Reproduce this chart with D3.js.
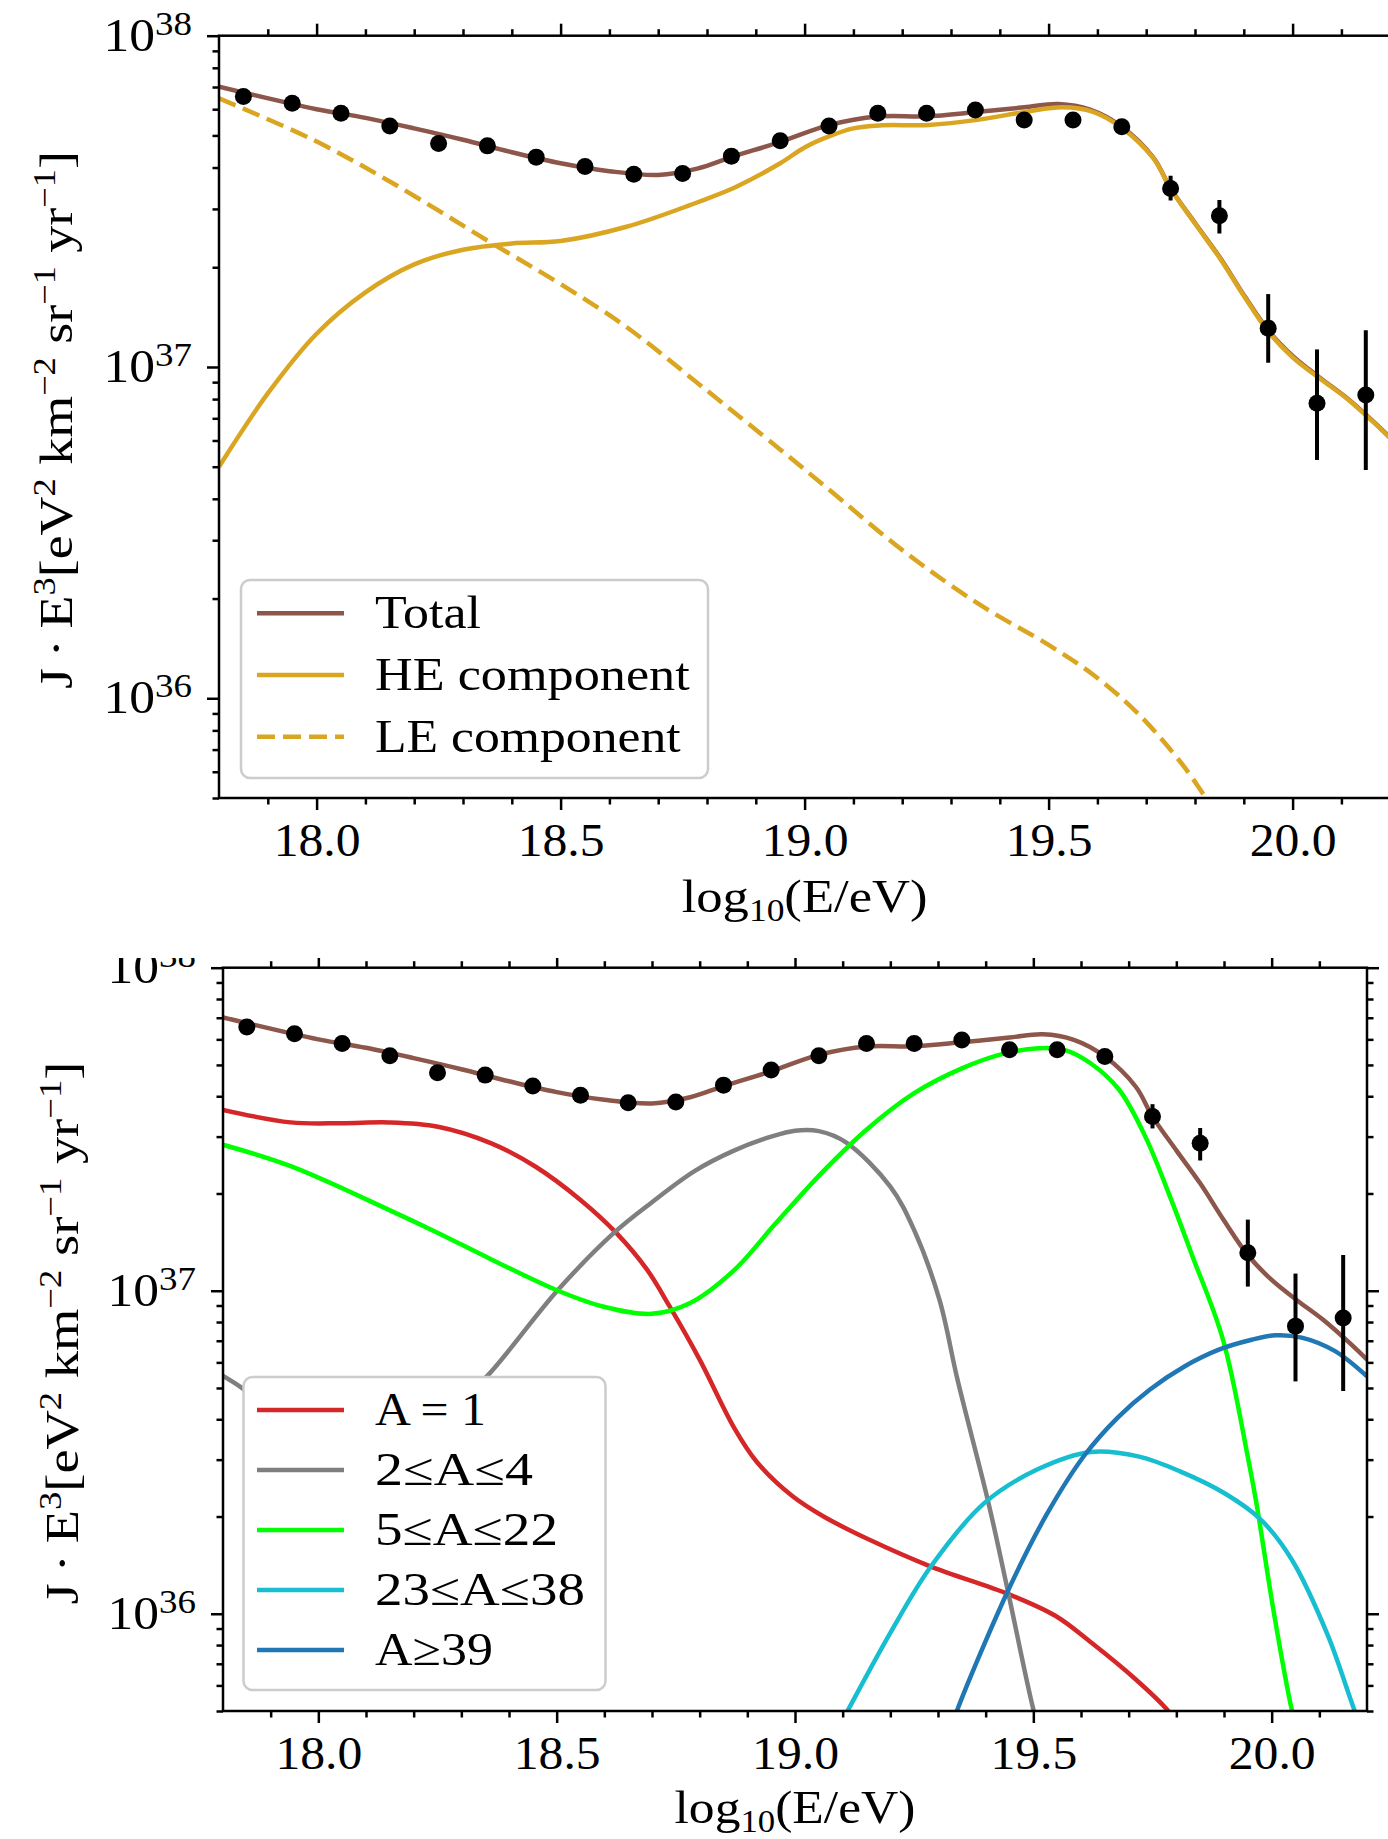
<!DOCTYPE html>
<html>
<head>
<meta charset="utf-8">
<script src="https://cdn.jsdelivr.net/npm/d3@7"></script>
<style>
  body { margin: 0; background: #fff; }
  svg text { font-family: "Liberation Serif", "Times New Roman", serif; fill: #000; }
</style>
</head>
<body>
<script>
// measured spectrum (same points in both panels)
const dataX = [17.85, 17.95, 18.05, 18.15, 18.25, 18.35, 18.45, 18.55, 18.65, 18.75, 18.85, 18.95,
  19.05, 19.15, 19.25, 19.35, 19.45, 19.55, 19.65, 19.75, 19.85, 19.95, 20.05, 20.15];
const dataFlux = [6.55e37, 6.25e37, 5.83e37, 5.34e37, 4.73e37, 4.65e37, 4.30e37, 4.03e37, 3.82e37, 3.84e37, 4.33e37, 4.82e37,
  5.34e37, 5.83e37, 5.83e37, 5.97e37, 5.57e37, 5.57e37, 5.31e37, 3.46e37, 2.86e37, 1.31e37, 7.77e36, 8.23e36];
const errLow = [null, null, null, null, null, null, null, null, null, null, null, null,
  null, null, null, null, null, null, null, 3.18e37, 2.53e37, 1.03e37, 5.24e36, 4.89e36];
const errHigh = [null, null, null, null, null, null, null, null, null, null, null, null,
  null, null, null, null, null, null, null, 3.78e37, 3.19e37, 1.66e37, 1.13e37, 1.29e37];

// model: total
const totalX = [17.8, 18.0, 18.1, 18.2, 18.3, 18.4, 18.5, 18.6, 18.7, 18.78, 18.85, 18.95, 19.05, 19.15, 19.25, 19.35,
  19.45, 19.52, 19.585, 19.65, 19.715, 19.75, 19.8, 19.85, 19.9, 19.95, 20.0, 20.055, 20.108, 20.164, 20.2];
const totalFlux = [7.02e37, 6.0e37, 5.65e37, 5.25e37, 4.85e37, 4.45e37, 4.12e37, 3.9e37, 3.8e37, 3.97e37, 4.3e37, 4.78e37, 5.37e37, 5.70e37, 5.71e37, 5.88e37,
  6.08e37, 6.22e37, 5.98e37, 5.31e37, 4.28e37, 3.46e37, 2.72e37, 2.15e37, 1.65e37, 1.29e37, 1.08e37, 9.3e36, 8.13e36, 6.88e36, 6.12e36];

// top panel components
const heX = [17.8, 17.9, 18.0, 18.1, 18.2, 18.3, 18.4, 18.5, 18.635, 18.765, 18.86, 18.95, 19.0, 19.055, 19.1, 19.153, 19.254, 19.354,
  19.455, 19.528, 19.59, 19.65, 19.715, 19.75, 19.8, 19.85, 19.9, 19.95, 20.0, 20.055, 20.108, 20.164, 20.2];
const heFlux = [5.0e36, 8.32e36, 1.26e37, 1.68e37, 2.04e37, 2.26e37, 2.36e37, 2.40e37, 2.65e37, 3.08e37, 3.50e37, 4.12e37, 4.6e37, 5.0e37, 5.25e37, 5.36e37, 5.38e37, 5.57e37,
  5.90e37, 6.08e37, 5.90e37, 5.27e37, 4.26e37, 3.45e37, 2.71e37, 2.14e37, 1.64e37, 1.28e37, 1.07e37, 9.25e36, 8.1e36, 6.85e36, 6.1e36];
const leX = [17.8, 17.994, 18.15, 18.36, 18.497, 18.635, 18.79, 18.951, 19.043, 19.208, 19.363, 19.5, 19.592, 19.684, 19.775, 19.821, 19.85];
const leFlux = [6.47e37, 4.84e37, 3.63e37, 2.36e37, 1.79e37, 1.32e37, 8.72e36, 5.62e36, 4.35e36, 2.745e36, 1.90e36, 1.449e36, 1.176e36, 8.97e35, 6.29e35, 5.04e35, 4.4e35];

// bottom panel components (mass groups)
const redX = [17.8, 17.942, 18.05, 18.148, 18.251, 18.363, 18.456, 18.55, 18.625, 18.69, 18.737, 18.8, 18.873, 18.92, 18.995,
  19.06, 19.154, 19.285, 19.448, 19.547, 19.622, 19.715, 19.78, 19.8];
const redFlux = [3.63e37, 3.32e37, 3.30e37, 3.32e37, 3.22e37, 2.86e37, 2.42e37, 1.91e37, 1.51e37, 1.16e37, 8.94e36, 6.12e36, 3.75e36, 2.95e36, 2.31e36,
  2.0e36, 1.70e36, 1.40e36, 1.15e36, 9.84e35, 8.13e35, 6.26e35, 5.06e35, 4.6e35];
const grayX = [17.8, 17.835, 17.9, 18.0, 18.1, 18.2, 18.3, 18.357, 18.503, 18.62, 18.7, 18.79, 18.873, 18.95, 19.0, 19.05, 19.107, 19.2, 19.25,
  19.303, 19.341, 19.406, 19.448, 19.5, 19.52];
const grayFlux = [5.45e36, 5.06e36, 4.3e36, 3.6e36, 3.4e36, 3.7e36, 4.6e36, 5.5e36, 1.007e37, 1.51e37, 1.88e37, 2.35e37, 2.72e37, 3.0e37, 3.13e37, 3.12e37, 2.88e37, 2.10e37, 1.54e37,
  9.38e36, 5.3e36, 2.2e36, 1.15e36, 5.06e35, 4.0e35];
const greenX = [17.8, 17.942, 18.148, 18.251, 18.363, 18.503, 18.597, 18.70, 18.78, 18.873, 18.96, 19.06, 19.153, 19.25, 19.35, 19.44,
  19.51, 19.565, 19.62, 19.68, 19.735, 19.79, 19.832, 19.898, 19.951, 19.968, 20.005, 20.042, 20.06];
const greenFlux = [2.83e37, 2.43e37, 1.78e37, 1.51e37, 1.25e37, 1.0e37, 8.94e36, 8.48e36, 9.16e36, 1.16e37, 1.62e37, 2.35e37, 3.18e37, 4.09e37, 4.88e37, 5.43e37,
  5.63e37, 5.57e37, 5.06e37, 4.19e37, 3.00e37, 1.9e37, 1.3e37, 7.05e36, 3.0e36, 2.2e36, 1.0e36, 5.06e35, 4.0e35];
const cyanX = [19.09, 19.112, 19.2, 19.285, 19.397, 19.509, 19.621, 19.72, 19.809, 19.902, 19.977, 20.042, 20.117, 20.173, 20.2];
const cyanFlux = [4.4e35, 5.06e35, 8.73e35, 1.40e36, 2.2e36, 2.80e36, 3.17e36, 3.07e36, 2.755e36, 2.357e36, 1.958e36, 1.472e36, 8.63e35, 5.06e35, 4.0e35];
const blueX = [19.33, 19.341, 19.448, 19.528, 19.607, 19.677, 19.744, 19.817, 19.888, 19.958, 20.007, 20.063, 20.133, 20.2];
const blueFlux = [4.5e35, 5.06e35, 1.189e36, 2.03e36, 3.09e36, 4.05e36, 4.94e36, 5.83e36, 6.56e36, 7.05e36, 7.28e36, 7.16e36, 6.5e36, 5.43e36];

// ticks
const xMajor = [18.0, 18.5, 19.0, 19.5, 20.0];
const xMinor = [17.9, 18.1, 18.2, 18.3, 18.4, 18.6, 18.7, 18.8, 18.9, 19.1, 19.2, 19.3, 19.4, 19.6, 19.7, 19.8, 19.9, 20.1];
const yMajorExp = [36, 37, 38];
const yMinorMult = [2, 3, 4, 5, 6, 7, 8, 9];

const width = 1388,
  height = 1839;

const svg = d3
  .select('body')
  .append('svg')
  .attr('width', width)
  .attr('height', height);

const defs = svg.append('defs');

function stretchTo(g, text, target, base) {
  const w = text.node().getBBox().width;
  g.attr('transform', base + ' scale(' + (target / w) + ',1)');
}

function drawPanel(p) {
  const x = d3.scaleLinear().domain([17.8, 20.2]).range([p.left, p.right]);
  const y = d3.scaleLog().domain([5e35, 1e38]).range([p.bottom, p.top]);

  const g = svg.append('g');
  if (p.clipTop) {
    defs.append('clipPath').attr('id', p.id + '-outer')
      .append('rect').attr('x', 0).attr('y', p.clipTop).attr('width', width).attr('height', height - p.clipTop);
    g.attr('clip-path', 'url(#' + p.id + '-outer)');
  }
  defs.append('clipPath').attr('id', p.id + '-plot')
    .append('rect')
    .attr('x', p.left).attr('y', p.top)
    .attr('width', p.right - p.left).attr('height', p.bottom - p.top);

  const plot = g.append('g').attr('clip-path', 'url(#' + p.id + '-plot)');

  const line = d3.line()
    .x(d => x(d[0]))
    .y(d => y(d[1]))
    .curve(d3.curveCatmullRom.alpha(0.5));

  p.curves.forEach(c => {
    plot.append('path')
      .datum(d3.zip(c.xs, c.ys))
      .attr('fill', 'none')
      .attr('stroke', c.color)
      .attr('stroke-width', 4.5)
      .attr('stroke-dasharray', c.dash ? '18,8' : null)
      .attr('d', line);
  });

  // data with error bars
  const pts = dataX.map((d, i) => ({ x: d, v: dataFlux[i], lo: errLow[i], hi: errHigh[i] }));
  plot.selectAll('.err')
    .data(pts.filter(d => d.lo !== null))
    .enter()
    .append('line')
    .attr('x1', d => x(d.x)).attr('x2', d => x(d.x))
    .attr('y1', d => y(d.lo)).attr('y2', d => y(d.hi))
    .style('stroke', '#000')
    .style('stroke-width', '4px');
  plot.selectAll('.pt')
    .data(pts)
    .enter()
    .append('circle')
    .attr('cx', d => x(d.x))
    .attr('cy', d => y(d.v))
    .attr('r', 8.5)
    .style('fill', '#000');

  // axes
  const yMinor = [];
  [35, 36, 37].forEach(e => yMinorMult.forEach(m => {
    const v = m * Math.pow(10, e);
    if (v > 5e35 * 0.999 && v < 1e38) yMinor.push(v);
  }));
  const yMajor = yMajorExp.map(e => Math.pow(10, e));

  const axes = [
    [d3.axisBottom(x).tickValues(xMajor).tickSize(12).tickPadding(13).tickFormat(d3.format('.1f')), 'translate(0,' + p.bottom + ')'],
    [d3.axisBottom(x).tickValues(xMinor).tickSize(6.5).tickFormat(''), 'translate(0,' + p.bottom + ')'],
    [d3.axisTop(x).tickValues(xMajor).tickSize(12).tickFormat(''), 'translate(0,' + p.top + ')'],
    [d3.axisTop(x).tickValues(xMinor).tickSize(6.5).tickFormat(''), 'translate(0,' + p.top + ')'],
    [d3.axisLeft(y).tickValues(yMajor).tickSize(12).tickFormat(''), 'translate(' + p.left + ',0)'],
    [d3.axisLeft(y).tickValues(yMinor).tickSize(6.5).tickFormat(''), 'translate(' + p.left + ',0)'],
    [d3.axisRight(y).tickValues(yMajor).tickSize(12).tickFormat(''), 'translate(' + p.right + ',0)'],
    [d3.axisRight(y).tickValues(yMinor).tickSize(6.5).tickFormat(''), 'translate(' + p.right + ',0)']
  ];
  axes.forEach(a => {
    const ax = g.append('g').attr('transform', a[1]).call(a[0]);
    ax.select('.domain').remove();
    ax.attr('font-size', 46).attr('font-family', null);
    ax.selectAll('line').attr('stroke', '#000').attr('stroke-width', 2.5);
    ax.selectAll('text').attr('transform', 'scale(1.08,1)');
  });

  g.append('rect')
    .attr('x', p.left).attr('y', p.top)
    .attr('width', p.right - p.left).attr('height', p.bottom - p.top)
    .attr('fill', 'none').attr('stroke', '#000').attr('stroke-width', 2.5);

  // y tick labels 10^n
  yMajorExp.forEach(e => {
    const t = g.append('g')
      .attr('transform', 'translate(' + (p.left - 27) + ',' + (y(Math.pow(10, e)) + 15) + ') scale(1.12,1)')
      .append('text')
      .attr('text-anchor', 'end')
      .attr('font-size', 46)
      .text('10');
    t.append('tspan').attr('font-size', 33).attr('dy', -16).text(e);
  });

  // x label
  const xl = g.append('g');
  const xt = xl.append('text').attr('text-anchor', 'middle').attr('font-size', 46).text('log');
  xt.append('tspan').attr('font-size', 31).attr('dy', 9).text('10');
  xt.append('tspan').attr('dy', -9).text('(E/eV)');
  stretchTo(xl, xt, p.xLabelLen, 'translate(' + (p.left + p.right) / 2 + ',' + p.xLabelY + ')');

  // y label
  const yl = g.append('g');
  const yt = yl.append('text').attr('text-anchor', 'middle').attr('font-size', 46).text('J\u2009\u00b7\u2009E');
  const sup = (s, txt) => { s.append('tspan').attr('font-size', 31).attr('dy', -17).text(txt); };
  const base = (s, txt) => { s.append('tspan').attr('dy', 17).text(txt); };
  sup(yt, '3'); base(yt, '[eV'); sup(yt, '2'); base(yt, ' km'); sup(yt, '\u22122');
  base(yt, ' sr'); sup(yt, '\u22121'); base(yt, ' yr'); sup(yt, '\u22121'); base(yt, ']');
  stretchTo(yl, yt, p.yLabelLen, 'translate(' + p.yLabelX + ',' + p.yLabelY + ') rotate(-90)');

  // legend
  const lg = g.append('g');
  lg.append('rect')
    .attr('x', p.legend.x).attr('y', p.legend.y)
    .attr('width', p.legend.w).attr('height', p.legend.h)
    .attr('rx', 9)
    .attr('fill', '#fff')
    .attr('stroke', '#cccccc')
    .attr('stroke-width', 2.5);
  p.legend.items.forEach((it, i) => {
    const ry = p.legend.row0 + i * p.legend.step;
    lg.append('line')
      .attr('x1', 257).attr('x2', 344)
      .attr('y1', ry).attr('y2', ry)
      .attr('stroke', it.color)
      .attr('stroke-width', 4.5)
      .attr('stroke-dasharray', it.dash ? '18,8' : null);
    const tg = lg.append('g');
    const tt = tg.append('text').attr('font-size', 46).text(it.label);
    stretchTo(tg, tt, it.len, 'translate(375,' + (ry + 15) + ')');
  });
}

const brown = '#8c564b',
  gold = '#daa520';

drawPanel({
  id: 'top',
  left: 219, right: 1390.2, top: 35.7, bottom: 798,
  xLabelY: 912, xLabelLen: 246,
  yLabelX: 72, yLabelY: 420, yLabelLen: 538,
  curves: [
    { xs: totalX, ys: totalFlux, color: brown },
    { xs: heX, ys: heFlux, color: gold },
    { xs: leX, ys: leFlux, color: gold, dash: true }
  ],
  legend: {
    x: 241, y: 580, w: 467, h: 198, row0: 613.3, step: 61.7,
    items: [
      { label: 'Total', color: brown, len: 106 },
      { label: 'HE component', color: gold, len: 315 },
      { label: 'LE component', color: gold, dash: true, len: 306 }
    ]
  }
});

drawPanel({
  id: 'bottom',
  left: 223, right: 1367, top: 967.7, bottom: 1711,
  clipTop: 958,
  xLabelY: 1823, xLabelLen: 241,
  yLabelX: 78, yLabelY: 1333, yLabelLen: 543,
  curves: [
    { xs: totalX, ys: totalFlux, color: brown },
    { xs: redX, ys: redFlux, color: '#d62728' },
    { xs: grayX, ys: grayFlux, color: '#7f7f7f' },
    { xs: greenX, ys: greenFlux, color: '#00ff00' },
    { xs: cyanX, ys: cyanFlux, color: '#17becf' },
    { xs: blueX, ys: blueFlux, color: '#1f77b4' }
  ],
  legend: {
    x: 243.5, y: 1377, w: 362, h: 313, row0: 1410, step: 60,
    items: [
      { label: 'A = 1', color: '#d62728', len: 111 },
      { label: '2\u2264A\u22644', color: '#7f7f7f', len: 158 },
      { label: '5\u2264A\u226422', color: '#00ff00', len: 183 },
      { label: '23\u2264A\u226438', color: '#17becf', len: 210 },
      { label: 'A\u226539', color: '#1f77b4', len: 118 }
    ]
  }
});
</script>
</body>
</html>
